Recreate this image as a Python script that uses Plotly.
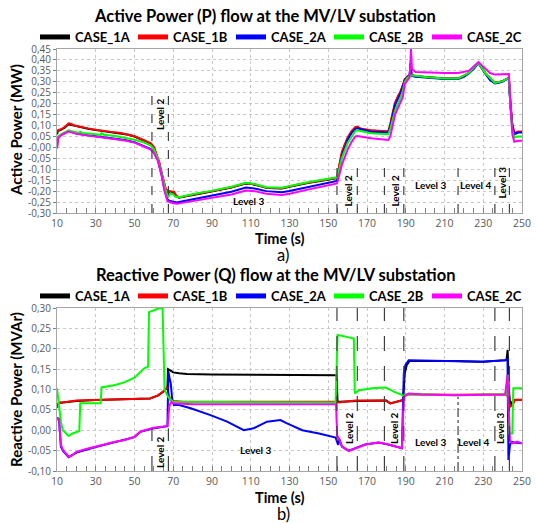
import plotly.graph_objects as go

# ---------------- data ----------------
x_ticks = [10, 30, 50, 70, 90, 110, 130, 150, 170, 190, 210, 230, 250]

p_ticks = [-0.30, -0.25, -0.20, -0.15, -0.10, -0.05, 0.0, 0.05, 0.10, 0.15, 0.20, 0.25, 0.30, 0.35, 0.40, 0.45]
p_tick_labels = ["-0,30", "-0,25", "-0,20", "-0,15", "-0,10", "-0,05", "-0,00", "0,05", "0,10",
                 "0,15", "0,20", "0,25", "0,30", "0,35", "0,40", "0,45"]
q_ticks = [-0.10, -0.05, 0.0, 0.05, 0.10, 0.15, 0.20, 0.25, 0.30]
q_tick_labels = ["-0,10", "-0,05", "0,00", "0,05", "0,10", "0,15", "0,20", "0,25", "0,30"]

series_names = ["CASE_1A", "CASE_1B", "CASE_2A", "CASE_2B", "CASE_2C"]
series_colors = ["#000000", "#ff0000", "#0000ff", "#00ff00", "#ff00ff"]

# ---- Active power P (MW) ----
t_p_1a = [10, 10.5, 12, 14, 16, 17, 19, 22, 26, 30, 33, 38, 43, 47, 50, 54, 58.4, 60, 61, 62.7, 64, 65.2, 66,
          67, 68, 69.5, 70.5, 71.7, 73, 76, 81, 85, 89, 95, 100, 104, 107.5, 110, 112, 115, 118, 122, 126,
          130, 135, 140, 145, 150, 154.5, 155, 157, 158.5, 160, 162, 164, 165, 167, 172, 177, 181, 182, 183,
          184.5, 186, 187.2, 188.5, 189.5, 191, 192, 192.5, 193, 195, 200, 205, 210, 217, 220, 222.5, 225,
          227.5, 229, 231, 233.5, 236, 238, 240, 242.5, 243.2, 244, 245, 246, 248, 250]
p_1a = [0.060, 0.075, 0.080, 0.090, 0.106, 0.104, 0.097, 0.091, 0.085, 0.079, 0.075, 0.070, 0.065, 0.058,
        0.050, 0.035, 0.018, 0.000, -0.025, -0.070, -0.120, -0.165, -0.190, -0.203, -0.205, -0.207, -0.210,
        -0.225, -0.230, -0.225, -0.215, -0.210, -0.203, -0.193, -0.183, -0.173, -0.165, -0.166, -0.170,
        -0.178, -0.185, -0.187, -0.188, -0.180, -0.170, -0.162, -0.155, -0.148, -0.140, -0.120, -0.030,
        0.010, 0.040, 0.070, 0.090, 0.092, 0.083, 0.077, 0.074, 0.072, 0.100, 0.140, 0.200, 0.230, 0.250,
        0.280, 0.310, 0.325, 0.330, 0.385, 0.330, 0.325, 0.322, 0.318, 0.315, 0.315, 0.325, 0.340, 0.360,
        0.387, 0.365, 0.340, 0.310, 0.295, 0.298, 0.303, 0.315, 0.320, 0.200, 0.100, 0.062, 0.070, 0.070]

t_p_1b = [10, 10.5, 12, 14, 16, 17, 19, 22, 26, 30, 33, 38, 43, 47, 50, 54, 58.4, 60, 61, 62.7, 64, 65.2, 66,
          67, 68, 69.5, 70.5, 71.7, 73, 76, 81, 89, 100, 107.5, 112, 118, 126, 135, 145, 154.5, 155, 157,
          160, 162, 164, 165, 167, 172, 181, 182, 183, 184.5, 186, 187.2, 188.5, 189.5, 191, 193, 200, 210,
          217, 222.5, 227.5, 231, 236, 240, 242.5, 243.2, 244, 245, 246, 248, 250]
p_1b = [0.068, 0.078, 0.083, 0.093, 0.110, 0.108, 0.100, 0.093, 0.087, 0.081, 0.076, 0.071, 0.066, 0.059,
        0.051, 0.036, 0.019, 0.002, -0.022, -0.065, -0.115, -0.160, -0.185, -0.198, -0.200, -0.200, -0.203,
        -0.222, -0.228, -0.224, -0.214, -0.202, -0.182, -0.164, -0.169, -0.184, -0.187, -0.169, -0.154,
        -0.139, -0.115, -0.020, 0.045, 0.075, 0.093, 0.094, 0.085, 0.078, 0.073, 0.105, 0.150, 0.205, 0.235,
        0.255, 0.285, 0.312, 0.326, 0.330, 0.322, 0.315, 0.315, 0.340, 0.387, 0.340, 0.296, 0.303, 0.316,
        0.321, 0.210, 0.110, 0.066, 0.073, 0.073]

t_p_2a = [10, 10.5, 12, 16, 17, 20, 25, 30, 35, 40, 45, 50, 55, 58.4, 60, 62, 64, 65.5, 67, 68, 70, 72, 73,
          76, 81, 89, 100, 107.5, 112, 118, 126, 130, 140, 150, 154.5, 155, 157, 160, 162, 164, 165, 172,
          181, 182, 184.5, 187.2, 188.5, 189.5, 191, 192, 192.5, 193, 195, 200, 205, 210, 217, 220, 222.5,
          225, 227.5, 229, 231, 233.5, 236, 238, 240, 242.5, 243.2, 244, 245, 246, 248, 250]
p_2a = [-0.002, 0.043, 0.057, 0.075, 0.072, 0.064, 0.057, 0.052, 0.047, 0.042, 0.034, 0.024, 0.007, -0.008,
        -0.022, -0.057, -0.125, -0.195, -0.238, -0.244, -0.248, -0.252, -0.250, -0.245, -0.235, -0.222,
        -0.203, -0.184, -0.188, -0.200, -0.205, -0.199, -0.180, -0.163, -0.153, -0.135, -0.040, 0.035,
        0.065, 0.085, 0.087, 0.072, 0.068, 0.095, 0.195, 0.245, 0.275, 0.306, 0.322, 0.328, 0.385, 0.328,
        0.323, 0.320, 0.316, 0.313, 0.313, 0.323, 0.338, 0.358, 0.385, 0.363, 0.338, 0.308, 0.293, 0.296,
        0.301, 0.313, 0.318, 0.195, 0.095, 0.060, 0.068, 0.068]

t_p_2b = [10, 10.5, 12, 16, 17, 20, 21.5, 22, 23, 30, 32.5, 33, 34, 40, 45, 50, 55, 58.4, 60, 62, 64, 65.5,
          66.5, 67.5, 68.5, 70, 71, 73, 81, 89, 100, 107.5, 112, 118, 126, 140, 150, 154.5, 155, 157, 160,
          162, 164, 165, 172, 181, 182, 184.5, 187.2, 188.5, 189.5, 191, 193, 200, 210, 217, 222.5, 227.5,
          231, 236, 240, 242.5, 243.2, 244, 245, 246, 248, 250]
p_2b = [0.030, 0.050, 0.060, 0.078, 0.075, 0.068, 0.066, 0.072, 0.066, 0.060, 0.057, 0.066, 0.058, 0.052,
        0.045, 0.035, 0.022, 0.008, -0.010, -0.050, -0.120, -0.180, -0.210, -0.225, -0.210, -0.215, -0.225,
        -0.228, -0.212, -0.200, -0.180, -0.162, -0.167, -0.182, -0.185, -0.158, -0.145, -0.137, -0.125,
        -0.050, 0.020, 0.050, 0.075, 0.078, 0.065, 0.060, 0.085, 0.170, 0.225, 0.260, 0.300, 0.320, 0.330,
        0.322, 0.315, 0.315, 0.340, 0.387, 0.340, 0.295, 0.303, 0.315, 0.318, 0.190, 0.080, 0.045, 0.050,
        0.050]

t_p_2c = [10, 10.5, 12, 16, 17, 20, 25, 30, 35, 40, 45, 50, 55, 58.4, 60, 62, 64, 65.5, 67, 68, 70, 72, 73,
          76, 81, 89, 100, 107.5, 112, 118, 126, 130, 140, 150, 154.5, 155, 157, 160, 162, 164, 165, 172,
          181, 182, 184.5, 187.2, 188.5, 189.5, 191, 192, 192.7, 193.2, 195, 200, 210, 217, 222.5, 227.5,
          231, 233.5, 236, 240, 242.5, 243.2, 244, 245, 246, 248, 250]
p_2c = [-0.005, 0.040, 0.055, 0.073, 0.070, 0.062, 0.055, 0.050, 0.045, 0.040, 0.032, 0.022, 0.005, -0.010,
        -0.025, -0.060, -0.130, -0.200, -0.245, -0.250, -0.255, -0.258, -0.256, -0.252, -0.243, -0.232,
        -0.215, -0.197, -0.200, -0.212, -0.218, -0.212, -0.192, -0.175, -0.165, -0.150, -0.080, -0.010,
        0.025, 0.050, 0.052, 0.042, 0.034, 0.050, 0.150, 0.205, 0.230, 0.290, 0.310, 0.320, 0.450, 0.360,
        0.345, 0.343, 0.340, 0.340, 0.350, 0.390, 0.360, 0.340, 0.333, 0.335, 0.338, 0.336, 0.200, 0.060,
        0.026, 0.030, 0.030]

# ---- Reactive power Q (MVAr) ----
t_q_1a = [10, 11, 13, 20, 30, 40, 50, 58, 62, 65, 67, 67.3, 68, 70, 73, 77, 90, 110, 130, 150, 154.3, 154.8,
          156, 165, 172, 180, 182, 185, 188.5, 189, 189.5, 190.5, 192, 200, 215, 230, 242, 242.6, 243.2,
          244, 245, 246.5, 250]
q_1a = [0.060, 0.067, 0.068, 0.072, 0.074, 0.075, 0.076, 0.078, 0.085, 0.095, 0.105, 0.150, 0.148, 0.142,
        0.140, 0.138, 0.137, 0.136, 0.136, 0.135, 0.135, 0.070, 0.070, 0.072, 0.073, 0.073, 0.066, 0.070,
        0.074, 0.100, 0.140, 0.160, 0.170, 0.170, 0.170, 0.168, 0.172, 0.197, 0.100, 0.060, 0.070, 0.075,
        0.075]

t_q_1b = [10, 10.5, 11, 13, 16, 20, 30, 40, 50, 58, 62, 65, 67, 67.5, 68.5, 70, 75, 100, 130, 154, 155.5,
          160, 164, 172, 179.5, 182, 184.6, 188, 189, 189.5, 191, 200, 215, 232, 242, 243, 243.8, 245, 246.4,
          250]
q_1b = [0.055, 0.062, 0.068, 0.068, 0.070, 0.073, 0.074, 0.075, 0.076, 0.078, 0.085, 0.096, 0.107, 0.090,
        0.075, 0.072, 0.070, 0.070, 0.070, 0.070, 0.068, 0.071, 0.073, 0.073, 0.073, 0.066, 0.070, 0.074,
        0.075, 0.085, 0.088, 0.088, 0.087, 0.088, 0.088, 0.080, 0.058, 0.060, 0.074, 0.074]

t_q_2a = [10, 11, 12, 13, 16, 20, 30, 40, 50, 53, 60, 67, 67.5, 68, 68.7, 69.5, 70.4, 73, 79, 89.2, 97.8,
          106.4, 111.5, 118.4, 125.3, 128.7, 136.6, 145.2, 153.8, 155.1, 155.6, 157, 160.6, 164, 169, 176,
          181, 188, 189, 189.8, 191.5, 198, 215.5, 229, 241.3, 242.5, 243, 243.8, 244.5, 246, 250]
q_2a = [0.030, 0.028, -0.040, -0.050, -0.066, -0.055, -0.041, -0.029, -0.017, -0.004, 0.005, 0.010, 0.144,
        0.130, 0.115, 0.074, 0.062, 0.062, 0.054, 0.037, 0.021, 0.000, 0.005, 0.021, 0.025, 0.017, 0.000,
        -0.008, -0.018, -0.036, -0.020, -0.040, -0.050, -0.044, -0.035, -0.030, -0.035, -0.044, 0.140,
        0.160, 0.172, 0.171, 0.170, 0.168, 0.172, 0.175, -0.073, -0.036, -0.028, -0.030, -0.032]

t_q_2b = [10, 10.5, 11, 12, 13, 16, 18, 21.5, 22, 32.5, 33, 40, 45, 50, 55, 57, 57.5, 60, 63, 64.5, 65.5, 67,
          68, 70, 100, 130, 153.8, 154.8, 157.2, 160.6, 163.2, 163.7, 165.8, 172.6, 179.5, 184.6, 188, 189,
          190, 200, 215, 232, 242, 242.8, 243.5, 245, 245.5, 250]
q_2b = [0.103, 0.080, 0.062, 0.021, 0.000, -0.014, -0.008, -0.002, 0.066, 0.066, 0.105, 0.111, 0.118, 0.129,
        0.152, 0.156, 0.290, 0.295, 0.300, 0.298, 0.100, 0.085, 0.078, 0.070, 0.069, 0.069, 0.068, 0.234,
        0.231, 0.228, 0.225, 0.090, 0.098, 0.103, 0.105, 0.093, 0.087, 0.082, 0.088, 0.088, 0.086, 0.088,
        0.088, 0.136, -0.008, -0.008, 0.103, 0.103]

t_q_2c = [10, 10.5, 11, 12, 13, 16, 18, 20, 25, 30, 35, 40, 45, 50, 53, 57, 60, 65, 67, 68, 69, 70, 80, 100,
          130, 154, 154.6, 157.2, 160.6, 164, 169.2, 176, 181.2, 188, 189, 191.5, 198.4, 215.5, 232.7, 241.3,
          242.5, 243.8, 245.5, 247.3, 250]
q_2c = [0.030, 0.025, 0.030, -0.036, -0.048, -0.065, -0.061, -0.053, -0.046, -0.040, -0.035, -0.028, -0.024,
        -0.016, -0.003, 0.002, 0.006, 0.009, 0.011, 0.060, 0.070, 0.066, 0.064, 0.064, 0.064, 0.064, -0.012,
        -0.040, -0.051, -0.044, -0.035, -0.030, -0.035, -0.044, 0.082, 0.090, 0.088, 0.086, 0.088, 0.088,
        0.136, -0.028, -0.032, -0.028, -0.032]

# level markers (time of switching events)
p_level_lines_left = [59, 67.5]
p_level_lines_right = [154.5, 165, 179, 189, 217, 236, 243.5]
q_level_lines_left = [59, 67.5]
q_level_lines_full = [154.5, 165, 179, 189, 236, 243.5]
q_level_lines_part = [217]

# ---------------- geometry helpers (pixel -> paper) ----------------
W, H = 537, 523
ML, MR, MT, MB = 57, 15, 49, 52
PW, PH = W - ML - MR, H - MT - MB


def px(p):
    return (p - ML) / PW


def py(p):
    return (H - MB - p) / PH


FONT = "Lato"
fig = go.Figure()

p_series = [(t_p_1a, p_1a), (t_p_1b, p_1b), (t_p_2a, p_2a), (t_p_2b, p_2b), (t_p_2c, p_2c)]
q_series = [(t_q_1a, q_1a), (t_q_1b, q_1b), (t_q_2a, q_2a), (t_q_2b, q_2b), (t_q_2c, q_2c)]

for (tt, vv), name, col in zip(p_series, series_names, series_colors):
    fig.add_trace(go.Scatter(x=tt, y=vv, mode="lines", name=name, showlegend=False,
                             line=dict(color=col, width=2), xaxis="x", yaxis="y"))
for (tt, vv), name, col in zip(q_series, series_names, series_colors):
    fig.add_trace(go.Scatter(x=tt, y=vv, mode="lines", name=name, showlegend=False,
                             line=dict(color=col, width=2), xaxis="x2", yaxis="y2"))

# legend entries (thick swatches); bottom legend split in two groups so it stays on one row
for name, col in zip(series_names, series_colors):
    fig.add_trace(go.Scatter(x=[None], y=[None], mode="lines", name=name, legend="legend",
                             line=dict(color=col, width=5), xaxis="x", yaxis="y"))
for i, (name, col) in enumerate(zip(series_names, series_colors)):
    fig.add_trace(go.Scatter(x=[None], y=[None], mode="lines", name=name,
                             legend="legend2" if i < 2 else "legend3",
                             line=dict(color=col, width=5), xaxis="x2", yaxis="y2"))

shapes = []
dash_style = dict(color="#404040", width=1.2, dash="dash")
for t in p_level_lines_left:
    shapes.append(dict(type="line", xref="x", yref="y", x0=t, x1=t, y0=-0.30, y1=0.253, line=dash_style))
for t in p_level_lines_right:
    shapes.append(dict(type="line", xref="x", yref="y", x0=t, x1=t, y0=-0.30, y1=-0.055, line=dash_style))
dash_q = dict(color="#404040", width=1.2, dash="longdash")
for t in q_level_lines_left:
    shapes.append(dict(type="line", xref="x2", yref="y2", x0=t, x1=t, y0=-0.10, y1=0.005, line=dash_q))
for t in q_level_lines_full:
    shapes.append(dict(type="line", xref="x2", yref="y2", x0=t, x1=t, y0=-0.10, y1=0.30, line=dash_q))
for t in q_level_lines_part:
    shapes.append(dict(type="line", xref="x2", yref="y2", x0=t, x1=t, y0=-0.10, y1=0.082,
                       line=dict(color="#404040", width=1.2, dash="dashdot")))

annotations = []


def lvl(text, x, y, xr, yr, rot):
    annotations.append(dict(text=text, x=x, y=y, xref=xr, yref=yr, showarrow=False,
                            textangle=-90 if rot else 0,
                            font=dict(family=FONT, size=10, color="#000000", weight="bold")))


# top plot level labels
lvl("Level 2", 63.2, 0.153, "x", "y", True)
lvl("Level 3", 109, -0.245, "x", "y", False)
lvl("Level 2", 160, -0.199, "x", "y", True)
lvl("Level 2", 184.3, -0.199, "x", "y", True)
lvl("Level 3", 203.2, -0.172, "x", "y", False)
lvl("Level 4", 226.3, -0.172, "x", "y", False)
lvl("Level 3", 239.9, -0.158, "x", "y", True)
# bottom plot level labels
lvl("Level 2", 63.2, -0.053, "x2", "y2", True)
lvl("Level 3", 112.9, -0.048, "x2", "y2", False)
lvl("Level 2", 160.6, 0.005, "x2", "y2", True)
lvl("Level 2", 183.8, 0.005, "x2", "y2", True)
lvl("Level 3", 203.2, -0.029, "x2", "y2", False)
lvl("Level 4", 225.0, -0.029, "x2", "y2", False)
lvl("Level 3", 238.7, 0.006, "x2", "y2", True)


def txt(text, xp, yp, size, bold=True, angle=0):
    annotations.append(dict(text=text, x=px(xp), y=py(yp), xref="paper", yref="paper", showarrow=False,
                            textangle=angle, xanchor="center", yanchor="middle",
                            font=dict(family=FONT, size=size, color="#000000",
                                      weight="bold" if bold else "normal")))


txt("Active Power (P) flow at the MV/LV substation", 265, 16, 16.5)
txt("Reactive Power (Q) flow at the MV/LV substation", 275, 275, 16.5)
txt("Active Power (MW)", 16, 130, 15, angle=-90)
txt("Reactive Power (MVAr)", 16, 390, 15, angle=-90)
txt("Time (s)", 280, 238, 14.5)
txt("a)", 283, 255, 16.5, bold=False)
txt("Time (s)", 280, 497, 14.5)
txt("b)", 283, 514, 16.5, bold=False)

axis_common = dict(showline=True, linecolor="#a6a6a6", linewidth=1, mirror=True, zeroline=False,
                   showgrid=True, gridcolor="#c8c8c8", griddash="dot", gridwidth=1,
                   tickfont=dict(family="Open Sans", size=10, color="#595959"))

xaxis_common = dict(axis_common, range=[10, 250], tickmode="array", tickvals=x_ticks,
                    ticktext=[str(v) for v in x_ticks], ticks="inside", ticklen=5, tickcolor="#808080",
                    tickfont=dict(family="Open Sans", size=10.5, color="#595959"),
                    minor=dict(tickmode="linear", tick0=10, dtick=5, ticks="inside", ticklen=5,
                               tickcolor="#808080", showgrid=False))

ENTRY_W = 53
legend_common = dict(orientation="h", xanchor="left", yanchor="middle", entrywidth=ENTRY_W,
                     entrywidthmode="pixels", tracegroupgap=0,
                     font=dict(family=FONT, size=13, color="#000000", weight="bold"),
                     bgcolor="rgba(0,0,0,0)", itemclick=False, itemdoubleclick=False)

fig.update_layout(
    width=W, height=H,
    margin=dict(l=ML, r=MR, t=MT, b=MB, autoexpand=False),
    paper_bgcolor="white", plot_bgcolor="white",
    xaxis=dict(xaxis_common, domain=[0, 1], anchor="y"),
    yaxis=dict(axis_common, domain=[py(213), 1], anchor="x", range=[-0.30, 0.45], tickmode="array",
               tickvals=p_ticks, ticktext=p_tick_labels, ticks="outside", ticklen=3, tickcolor="#808080"),
    xaxis2=dict(xaxis_common, domain=[0, 1], anchor="y2"),
    yaxis2=dict(axis_common, domain=[0, py(308)], anchor="x2", range=[-0.10, 0.30], tickmode="array",
                tickvals=q_ticks, ticktext=q_tick_labels, ticks="outside", ticklen=3, tickcolor="#808080"),
    legend=dict(legend_common, x=px(35), y=py(37)),
    legend2=dict(legend_common, x=px(35), y=py(296)),
    legend3=dict(legend_common, x=px(35 + 2 * (ENTRY_W + 45)), y=py(296)),
    shapes=shapes,
    annotations=annotations,
)

fig.write_html("out.html", config={"displayModeBar": False},
               post_script="document.body.style.margin='0';")
